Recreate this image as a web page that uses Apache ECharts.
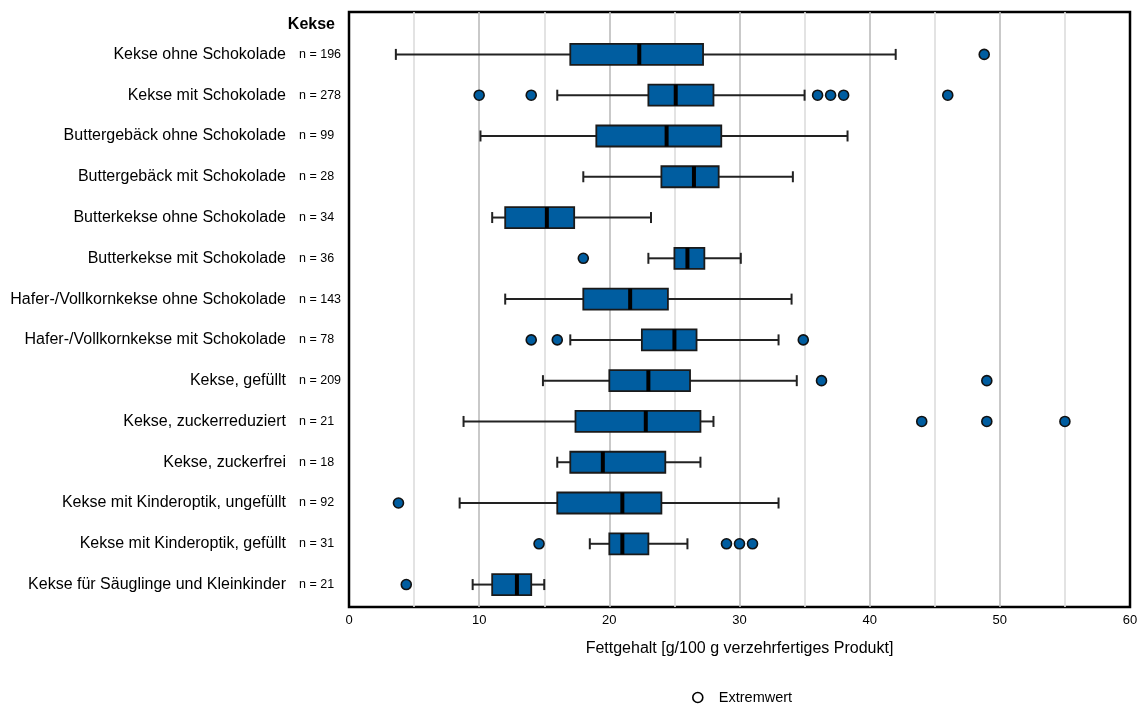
<!DOCTYPE html>
<html>
<head>
<meta charset="utf-8">
<script src="https://cdn.jsdelivr.net/npm/echarts@6/dist/echarts.min.js"></script>
<style>
html,body{margin:0;padding:0;background:#fff;}
#chart{width:1143px;height:704px;}
</style>
</head>
<body>
<div id="chart"></div>
<script>
const categories = [
  'Kekse ohne Schokolade',
  'Kekse mit Schokolade',
  'Buttergebäck ohne Schokolade',
  'Buttergebäck mit Schokolade',
  'Butterkekse ohne Schokolade',
  'Butterkekse mit Schokolade',
  'Hafer-/Vollkornkekse ohne Schokolade',
  'Hafer-/Vollkornkekse mit Schokolade',
  'Kekse, gefüllt',
  'Kekse, zuckerreduziert',
  'Kekse, zuckerfrei',
  'Kekse mit Kinderoptik, ungefüllt',
  'Kekse mit Kinderoptik, gefüllt',
  'Kekse für Säuglinge und Kleinkinder'
];
const sampleSizes = [196, 278, 99, 28, 34, 36, 143, 78, 209, 21, 18, 92, 31, 21];
const whiskerLow  = [3.6, 16.0, 10.1, 18.0, 11.0, 23.0, 12.0, 17.0, 14.9, 8.8, 16.0, 8.5, 18.5, 9.5];
const q1          = [17.0, 23.0, 19.0, 24.0, 12.0, 25.0, 18.0, 22.5, 20.0, 17.4, 17.0, 16.0, 20.0, 11.0];
const median      = [22.3, 25.1, 24.4, 26.5, 15.2, 26.0, 21.6, 25.0, 23.0, 22.8, 19.5, 21.0, 21.0, 12.9];
const q3          = [27.2, 28.0, 28.6, 28.4, 17.3, 27.3, 24.5, 26.7, 26.2, 27.0, 24.3, 24.0, 23.0, 14.0];
const whiskerHigh = [42.0, 35.0, 38.3, 34.1, 23.2, 30.1, 34.0, 33.0, 34.4, 28.0, 27.0, 33.0, 26.0, 15.0];
const outliers = [
  [48.8],
  [10.0, 14.0, 36.0, 37.0, 38.0, 46.0],
  [],
  [],
  [],
  [18.0],
  [],
  [14.0, 16.0, 34.9],
  [36.3, 49.0],
  [44.0, 49.0, 55.0],
  [],
  [3.8],
  [14.6, 29.0, 30.0, 31.0],
  [4.4]
];
const xTicks = [0, 10, 20, 30, 40, 50, 60];
const groupTitle = 'Kekse';
const xAxisTitle = 'Fettgehalt [g/100 g verzehrfertiges Produkt]';
const legendLabel = 'Extremwert';

const rowIndex = categories.map((c, i) => i + 1);
const boxData = categories.map((c, i) => [i + 1, whiskerLow[i], q1[i], median[i], q3[i], whiskerHigh[i]]);
const outlierData = [];
outliers.forEach((arr, i) => arr.forEach(v => outlierData.push([v, i + 1])));

const BLUE = '#005DA0';
const FONT = '"Liberation Sans", Arial, sans-serif';

function rowLookup(arr, fmt) {
  return function (v) {
    const i = Math.round(v);
    if (Math.abs(v - i) > 1e-6 || i < 1 || i > arr.length) return '';
    return fmt(arr[i - 1]);
  };
}

function renderBox(params, api) {
  const y = api.value(0);
  const lo = api.coord([api.value(1), y]);
  const a = api.coord([api.value(2), y]);
  const m = api.coord([api.value(3), y]);
  const b = api.coord([api.value(4), y]);
  const hi = api.coord([api.value(5), y]);
  const h = 21, c = 11;
  const wStyle = {stroke: '#222', lineWidth: 2};
  return {
    type: 'group',
    children: [
      {type: 'line', shape: {x1: lo[0], y1: lo[1], x2: a[0], y2: a[1]}, style: wStyle},
      {type: 'line', shape: {x1: b[0], y1: b[1], x2: hi[0], y2: hi[1]}, style: wStyle},
      {type: 'line', shape: {x1: lo[0], y1: lo[1] - c / 2, x2: lo[0], y2: lo[1] + c / 2}, style: wStyle},
      {type: 'line', shape: {x1: hi[0], y1: hi[1] - c / 2, x2: hi[0], y2: hi[1] + c / 2}, style: wStyle},
      {type: 'rect', shape: {x: a[0], y: a[1] - h / 2, width: b[0] - a[0], height: h},
        style: {fill: BLUE, stroke: '#1a1a1a', lineWidth: 1.8}},
      {type: 'line', shape: {x1: m[0], y1: m[1] - h / 2, x2: m[0], y2: m[1] + h / 2},
        style: {stroke: '#000', lineWidth: 4}}
    ]
  };
}

const yBase = {
  type: 'value',
  inverse: true,
  min: -0.04, max: 14.55,
  position: 'left',
  axisLine: {show: false},
  axisTick: {show: false},
  splitLine: {show: false}
};

const chart = echarts.init(document.getElementById('chart'), null, {renderer: 'canvas'});
chart.setOption({
  animation: false,
  backgroundColor: '#fff',
  textStyle: {fontFamily: FONT, color: '#000'},
  title: {
    text: groupTitle,
    right: 803,
    top: 12,
    textStyle: {fontFamily: FONT, fontSize: 16, fontWeight: 'bold', color: '#000'}
  },
  legend: {
    data: [{name: legendLabel, icon: 'circle',
      itemStyle: {color: '#fff', borderColor: '#000', borderWidth: 1.6, opacity: 1}}],
    left: 687,
    top: 685,
    itemWidth: 32,
    itemHeight: 10,
    textStyle: {fontFamily: FONT, fontSize: 14.5, color: '#000'}
  },
  grid: {
    left: 349, right: 13, top: 12, bottom: 97,
    show: true, borderColor: '#000', borderWidth: 2.5, backgroundColor: 'transparent'
  },
  xAxis: {
    type: 'value',
    min: 0, max: 60, interval: 10,
    axisLine: {show: false},
    axisTick: {show: false},
    axisLabel: {fontFamily: FONT, fontSize: 13, color: '#000', margin: 7},
    splitLine: {show: true, showMinLine: false, showMaxLine: false, lineStyle: {color: '#bcbcbc', width: 1.6}},
    minorTick: {show: false, splitNumber: 2},
    minorSplitLine: {show: true, lineStyle: {color: '#dcdcdc', width: 1.6}},
    name: xAxisTitle,
    nameLocation: 'middle',
    nameGap: 34,
    nameTextStyle: {fontFamily: FONT, fontSize: 16, color: '#000'}
  },
  yAxis: [
    Object.assign({}, yBase, {
      axisLabel: {
        margin: 63,
        customValues: rowIndex,
        fontFamily: FONT, fontSize: 16, color: '#000',
        formatter: rowLookup(categories, s => s)
      }
    }),
    Object.assign({}, yBase, {
      axisLabel: {
        margin: 50,
        align: 'left',
        customValues: rowIndex,
        fontFamily: FONT, fontSize: 12.5, color: '#000',
        formatter: rowLookup(sampleSizes, n => 'n = ' + n)
      }
    })
  ],
  series: [
    {
      type: 'custom',
      name: 'Box',
      renderItem: renderBox,
      encode: {x: [1, 2, 3, 4, 5], y: 0},
      data: boxData,
      z: 3
    },
    {
      type: 'scatter',
      name: legendLabel,
      data: outlierData,
      symbol: 'circle',
      symbolSize: 10,
      itemStyle: {color: BLUE, borderColor: '#111', borderWidth: 1.6, opacity: 1},
      z: 4
    }
  ]
});
</script>
</body>
</html>
